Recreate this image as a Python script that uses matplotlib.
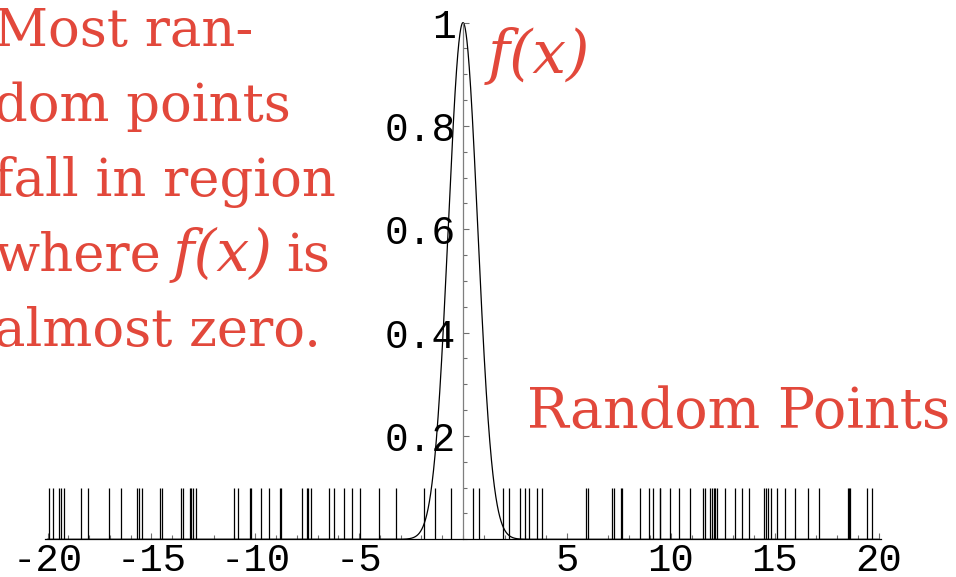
import numpy as np
import matplotlib
matplotlib.use("Agg")
import matplotlib.pyplot as plt

# ---- data ----
random_points = [
    -19.94, -19.74, -19.47, -19.37, -19.21, -18.41, -18.04, -17.03, -16.45,
    -15.70, -15.60, -15.46, -14.60, -14.51, -13.59, -13.49, -13.16, -13.07,
    -13.00, -12.83, -11.04, -10.81, -10.27, -10.20, -9.70, -9.34, -8.82,
    -8.76, -7.73, -7.53, -7.44, -7.34, -6.46, -6.22, -5.73, -5.35, -4.96,
    -4.05, -3.23, -1.88, -1.35, -0.59, 0.50, 0.79, 1.94, 2.23, 2.75, 3.00,
    3.18, 3.57, 3.79, 5.91, 6.04, 7.18, 7.28, 7.60, 7.66, 8.50, 8.96, 9.14,
    9.46, 9.49, 9.98, 10.42, 10.94, 11.55, 11.65, 11.90, 11.98, 12.06, 12.14,
    12.23, 12.63, 13.07, 13.43, 13.75, 14.51, 14.59, 14.67, 14.83, 15.12,
    15.52, 16.00, 16.59, 17.14, 18.52, 18.57, 18.62, 19.46, 19.70,
]
point_height = 0.1
x_ticks = [-20, -15, -10, -5, 5, 10, 15, 20]
x_tick_labels = ["-20", "-15", "-10", "-5", "5", "10", "15", "20"]
y_ticks = [0.2, 0.4, 0.6, 0.8, 1.0]
y_tick_labels = ["0.2", "0.4", "0.6", "0.8", "1"]

left_text = ["Most ran-", "dom points", "fall in region", None, "almost zero."]

RED = "#E2483B"
W, H = 956, 577

fig = plt.figure(figsize=(W / 100, H / 100), dpi=100)

# axes placement in pixels
x0_px, xscale = 463.0, 20.775
y0_px, yscale = 539.3, 516.7
xmin, xmax = -20.1, 20.1
ax_left = (x0_px + xmin * xscale) / W
ax_w = (xmax - xmin) * xscale / W
ax_bottom = (H - y0_px) / H
ax_h = yscale / H
ax = fig.add_axes([ax_left, ax_bottom, ax_w, ax_h])
ax.set_xlim(xmin, xmax)
ax.set_ylim(0, 1)
ax.patch.set_visible(False)

# curve f(x) = exp(-x^2)
xs = np.linspace(-20, 20, 4001)
ax.plot(xs, np.exp(-xs ** 2), color="black", lw=0.9, clip_on=False)

# random points
ax.vlines(random_points, 0, point_height, color="black", lw=0.9)

# spines
for s in ("top", "right"):
    ax.spines[s].set_visible(False)
ax.spines["left"].set_position(("data", 0))
ax.spines["left"].set_color("#7f7f7f")
ax.spines["left"].set_linewidth(0.9)
ax.spines["bottom"].set_color("black")
ax.spines["bottom"].set_linewidth(0.9)

mono = "Liberation Mono"
ax.set_xticks(x_ticks)
ax.set_xticklabels(x_tick_labels, fontfamily=mono, fontsize=28)
ax.set_yticks(y_ticks)
ax.set_yticklabels(y_tick_labels, fontfamily=mono, fontsize=28.5)
ax.set_xticks(np.arange(-20, 21, 1), minor=True)
ax.set_yticks(np.arange(0, 1.0001, 0.05), minor=True)
ax.tick_params(axis="both", which="major", direction="in", length=4.5,
               width=0.8, color="#6f6f6f")
ax.tick_params(axis="both", which="minor", direction="in", length=3,
               width=0.8, color="#6f6f6f")
ax.tick_params(axis="x", which="major", pad=2.5)
ax.tick_params(axis="y", which="major", pad=5)

serif = "DejaVu Serif"


def ptext(x, y, s, fs=38, **kw):
    fig.text(x / W, 1 - y / H, s, ha="left", va="baseline", color=RED,
             fontfamily=serif, fontsize=fs, **kw)


baselines = [46, 121, 196, 271, 346]
for s, b in zip(left_text, baselines):
    if s is not None:
        ptext(-6, b, s)
ptext(-6, 271, "where")
ptext(173, 271, "f(x)", fs=42, style="italic")
ptext(286, 271, "is")

ptext(527, 428, "Random Points", fs=40)
ptext(488, 73, "f(x)", fs=43, style="italic")

fig.savefig("out.png", dpi=100)
